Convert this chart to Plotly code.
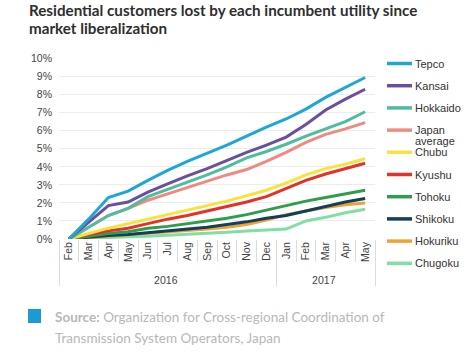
import plotly.graph_objects as go

years = ["2016"] * 11 + ["2017"] * 5
months = ["Feb", "Mar", "Apr", "May", "Jun", "Jul", "Aug", "Sep", "Oct", "Nov", "Dec",
          "Jan", "Feb", "Mar", "Apr", "May"]

tepco    = [0, 1.10, 2.30, 2.65, 3.25, 3.80, 4.30, 4.75, 5.20, 5.70, 6.20, 6.65, 7.20, 7.85, 8.40, 8.95]
kansai   = [0, 0.95, 1.85, 2.05, 2.60, 3.05, 3.50, 3.90, 4.35, 4.80, 5.20, 5.65, 6.35, 7.15, 7.75, 8.30]
hokkaido = [0, 0.65, 1.30, 1.70, 2.35, 2.75, 3.15, 3.55, 4.00, 4.50, 4.85, 5.25, 5.70, 6.10, 6.50, 7.05]
japan    = [0, 0.65, 1.30, 1.70, 2.15, 2.50, 2.85, 3.20, 3.55, 3.85, 4.30, 4.80, 5.35, 5.80, 6.10, 6.45]
chubu    = [0, 0.30, 0.60, 0.85, 1.10, 1.35, 1.60, 1.85, 2.10, 2.40, 2.70, 3.10, 3.55, 3.90, 4.15, 4.45]
kyushu   = [0, 0.25, 0.45, 0.60, 0.85, 1.10, 1.30, 1.55, 1.80, 2.05, 2.35, 2.80, 3.25, 3.60, 3.90, 4.20]
tohoku   = [0, 0.15, 0.30, 0.40, 0.60, 0.70, 0.85, 1.00, 1.15, 1.35, 1.60, 1.85, 2.10, 2.30, 2.50, 2.70]
shikoku  = [0, 0.10, 0.20, 0.25, 0.35, 0.45, 0.55, 0.65, 0.80, 0.95, 1.15, 1.30, 1.55, 1.80, 2.05, 2.25]
hokuriku = [0, 0.08, 0.15, 0.20, 0.30, 0.38, 0.45, 0.55, 0.65, 0.80, 1.05, 1.35, 1.55, 1.75, 1.90, 2.00]
chugoku  = [0, 0.05, 0.10, 0.12, 0.15, 0.20, 0.25, 0.30, 0.37, 0.45, 0.50, 0.55, 1.00, 1.20, 1.45, 1.65]

names = ["Tepco", "Kansai", "Hokkaido", "Japan<br>average", "Chubu", "Kyushu",
         "Tohoku", "Shikoku", "Hokuriku", "Chugoku"]
series = [tepco, kansai, hokkaido, japan, chubu, kyushu, tohoku, shikoku, hokuriku, chugoku]
colors = ["#1ea7d6", "#6a4f9e", "#4dbd9c", "#f08a80", "#f6e33c", "#e2322b",
          "#2f9e4b", "#123f5c", "#f0a233", "#80dfa2"]

# keep 2017 month labels distinct so the multicategory axis keeps time order
inner = [m if y == "2016" else m + "\u200b" for y, m in zip(years, months)]

W, H = 472, 354
L, R, T, B = 59, 375, 58, 239  # plot box in pixels


def px(x):
    return (x - L) / (R - L)


def py(y):
    return (B - y) / (B - T)


fig = go.Figure()
for name, vals, col in reversed(list(zip(names, series, colors))):
    fig.add_trace(go.Scatter(
        x=[years, inner], y=vals, mode="lines", name=name.replace("<br>", " "),
        line=dict(color=col, width=3), showlegend=False, hoverinfo="skip"))

shapes = []
annotations = []
leg_font = dict(family="Liberation Sans, Arial", size=11, color="#333333")
leg_y0, leg_dy = 63.5, 22.2
for i, (name, col) in enumerate(zip(names, colors)):
    yy = leg_y0 + i * leg_dy
    shapes.append(dict(type="line", xref="paper", yref="paper",
                       x0=px(387), x1=px(412), y0=py(yy), y1=py(yy),
                       line=dict(color=col, width=3.5)))
    if "<br>" in name:
        first, second = name.split("<br>")
        annotations.append(dict(x=px(413), y=py(yy), xref="paper", yref="paper",
                                text=first, showarrow=False, xanchor="left", yanchor="middle",
                                font=leg_font))
        annotations.append(dict(x=px(413), y=py(yy + 11), xref="paper", yref="paper",
                                text=second, showarrow=False, xanchor="left", yanchor="middle",
                                font=leg_font))
    else:
        annotations.append(dict(x=px(413), y=py(yy), xref="paper", yref="paper",
                                text=name, showarrow=False, xanchor="left", yanchor="middle",
                                font=leg_font))

title_font = dict(family="Lato, Open Sans, sans-serif", size=15.2, color="#2e2e2e")
annotations.append(dict(x=px(27), y=py(10), xref="paper", yref="paper",
                        text="<b>Residential customers lost by each incumbent utility since</b>",
                        showarrow=False, xanchor="left", yanchor="middle", font=title_font))
annotations.append(dict(x=px(27), y=py(27.5), xref="paper", yref="paper",
                        text="<b>market liberalization</b>",
                        showarrow=False, xanchor="left", yanchor="middle", font=title_font))

shapes.append(dict(type="rect", xref="paper", yref="paper",
                   x0=px(28), x1=px(41), y0=py(309), y1=py(323),
                   fillcolor="#1b9ad6", line=dict(width=0)))
src_font = dict(family="Lato, sans-serif", size=13.5, color="#b8b8b8")
annotations.append(dict(x=px(53), y=py(317), xref="paper", yref="paper",
                        text="<b>Source:</b> Organization for Cross-regional Coordination of",
                        showarrow=False, xanchor="left", yanchor="middle", font=src_font))
annotations.append(dict(x=px(53), y=py(338), xref="paper", yref="paper",
                        text="Transmission System Operators, Japan",
                        showarrow=False, xanchor="left", yanchor="middle", font=src_font))

fig.update_layout(
    width=W, height=H,
    margin=dict(l=L, r=W - R, t=T, b=H - B),
    paper_bgcolor="white", plot_bgcolor="white",
    shapes=shapes, annotations=annotations,
    xaxis=dict(type="multicategory", tickangle=-90, range=[-0.5, len(months) - 0.5],
               tickfont=dict(family="Liberation Sans, Arial", size=10.5, color="#444444"),
               showgrid=False, ticks="outside", tickson="boundaries", ticklen=22,
               tickcolor="#dcdcdc", showdividers=True, dividercolor="#dcdcdc",
               dividerwidth=1, showline=False, zeroline=False),
    yaxis=dict(range=[0, 10.03], tickvals=list(range(0, 11)),
               ticktext=[f"{v}%" for v in range(0, 11)],
               tickfont=dict(family="Liberation Sans, Arial", size=10.5, color="#444444"),
               showgrid=True, gridcolor="#ececec", gridwidth=1, zeroline=False,
               ticks="", showline=False, ticklabelstandoff=6),
)

fig.write_html("out.html")
